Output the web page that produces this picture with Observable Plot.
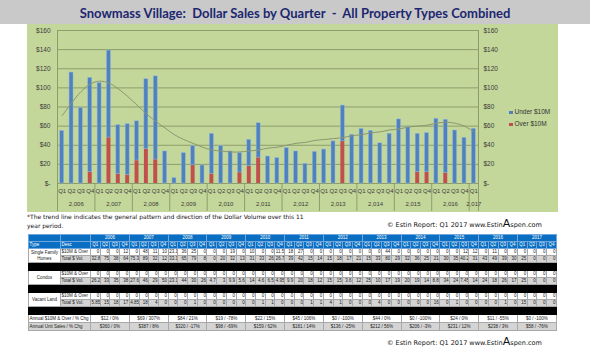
<!DOCTYPE html>
<html><head><meta charset="utf-8">
<script src="https://cdn.jsdelivr.net/npm/d3@7"></script>
<script src="https://cdn.jsdelivr.net/npm/@observablehq/plot@0.6"></script>
<style>
body{margin:0;background:#fff;}
#wrap{position:relative;width:590px;height:349px;overflow:hidden;font-family:"DejaVu Sans",sans-serif;background:#fff;}
#titlebar{position:absolute;left:0;top:0;width:590px;height:24px;background:#c9c9c9;}
#title{position:absolute;left:0;top:0;width:590px;height:24px;line-height:26px;text-align:center;font-family:Lato,sans-serif;font-weight:bold;font-size:13px;color:#1c2770;white-space:pre;}
#panel{position:absolute;left:27px;top:24px;width:531px;height:188px;background:#c4d79b;}
#panel svg{position:absolute;left:0;top:0;}
.leg{position:absolute;left:482px;font:6.5px "Liberation Sans",sans-serif;color:#333;white-space:nowrap;}
.leg i{display:inline-block;width:3.5px;height:3.5px;margin-right:2px;vertical-align:middle;}
#foot{position:absolute;left:27px;top:212px;font-size:6px;line-height:9px;color:#111;white-space:nowrap;}
.copy{position:absolute;left:387px;font-size:6.5px;color:#111;white-space:nowrap;}
.copy b{font-weight:normal;font-size:11px;}
#tbl{position:absolute;left:28px;top:234px;width:529px;border-collapse:collapse;table-layout:fixed;font-family:"Liberation Sans",sans-serif;font-size:4.5px;color:#222;}
#tbl td{padding:0 0.5px;border:1px solid #a8a8a8;text-align:right;overflow:hidden;white-space:nowrap;line-height:6px;}
#tbl tr.h td{background:#0a6fc2;color:#fff;border-color:#6ea6dd;text-align:center;}
#tbl tr.bk td{background:#000;border-color:#000;}
#tbl tr.g td{background:#d4d4d4;}
#tbl td.lbl{text-align:left;background:#fff !important;}
#tbl td.typ{text-align:center;background:#fff !important;line-height:6px;}
#tbl td.c{text-align:center;}
</style></head>
<body><div id="wrap">
<div id="titlebar"></div>
<div id="title">Snowmass Village:  Dollar Sales by Quarter  -  All Property Types Combined</div>
<div id="panel"></div>
<div id="foot">*The trend line indicates the general pattern and direction of the Dollar Volume over this 11<br>year period.</div>
<div class="copy" style="top:217px">© Estin Report: Q1 2017 www.Estin<b>A</b>spen.com</div>
<table id="tbl"></table>
<div class="copy" style="top:335px">© Estin Report: Q1 2017 www.Estin<b>A</b>spen.com</div>
</div>
<script>
// ---- chart data ----
const years = [2006,2007,2008,2009,2010,2011,2012,2013,2014,2015,2016,2017];
const quarters = ["Q1","Q2","Q3","Q4"];
const overSales = [0,0,0,12, 0,48,10,9, 24,36,25,0, 0,0,19,0, 10,0,0,11.5, 18,27,0,0, 0,0,0,0, 0,0,44,0, 0,0,0,0, 0,0,12,12, 0,11,0,0, 0];
const underSales = [55,116,79,98.5, 105,91,51,53, 41,73,87,33.5, 5.6,31.7,20,18.8, 42,39,33.5,20.2, 27.7,36,28.2,26.5, 37,33.5,20.6,33, 35.5,44,37.5,51, 57,55,42,52, 67,59,40,40.6, 67.7,55.6,55.4,47.8, 57.2];
const trendLine = [71,84,96,104, 107,105,99,91, 82,73,65,58, 51,46,42,38, 35,34,33,33, 34,35,37,38, 40,42,43,45, 46,47,48,50, 51,53,54,56, 57,59,60,61, 63,64,63,60, 54];
const yTicks = [0,20,40,60,80,100,120,140,160];
const seriesNames = ["Under $10M","Over $10M"];
const seriesColors = ["#4f81bd","#c0504d"];

// ---- table data ----
const tableTypes = ["Single Family<br>Homes","Condos","Vacant Land"];
const tableDesc = ["$10M & Over","Total $ Vol."];
const sfOver = [0,0,0,12, 0,48,11,10, 23.1,36,25,0, 0,0,19,0, 10,0,0,11.5, 18,27,0,0, 0,0,0,0, 0,0,44,0, 0,0,0,0, 0,0,12,12, 0,11,0,0, 0,0,0,0];
const sfTotal = [32.8,75,38,64, 75.3,89,32,12, 33.1,65,79,8, 0,20,32,13, 31,33,26,26.7, 39,42,15,14, 15,18,17,21, 15,33,80,29, 32,36,25,21, 30,35,40.2,31, 43,49,39,30, 25,0,0,0];
const condoOver = [0,0,0,0, 0,0,0,0, 0,0,0,0, 0,0,0,0, 0,0,0,0, 0,0,0,0, 0,0,0,0, 0,0,0,0, 0,0,0,0, 0,0,0,0, 0,0,0,0, 0,0,0,0];
const condoTotal = [26.2,33,35,38, 27.6,46,29,50, 23.1,44,30,26, 4.7,3,9.9,5.6, 14,4.6,6.5,4.95, 9.9,20,18,12, 15,15,3.6,12, 25,10,17,19, 20,19,14,8.8, 34,24,7.45,14, 24,18,26,17, 25,0,0,0];
const landOver = [0,0,0,0, 0,0,0,0, 0,0,0,0, 0,0,0,0, 0,0,0,0, 0,0,0,0, 0,0,0,0, 0,0,0,0, 0,0,0,0, 0,0,0,0, 0,0,0,0, 0,0,0,0];
const landTotal = [5.85,15,18,17, 4.85,18,4,0, 0,0,1,0, 0,0,0,0, 0,1,1,0, 0,0,1,1, 4,1,0,0, 0,4,0,0, 0,0,0,16, 0,1,0,0, 0,0,1,0, 15,0,0,0];
const annualLabels = ["Annual $10M & Over / % Chg","Annual Unit Sales / % Chg"];
const annualOver = ["$12 / 0%","$69 / 307%","$84 / 21%","$19 / -78%","$22 / 15%","$45 / 106%","$0 / -100%","$44 / 0%","$0 / -100%","$24 / 0%","$11 / -55%","$0 / -100%"];
const annualSales = ["$360 / 0%","$387 / 8%","$320 / -17%","$98 / -69%","$159 / 62%","$181 / 14%","$136 / -25%","$212 / 56%","$206 / -3%","$231 / 12%","$238 / 3%","$58 / -76%"];

// ---- chart ----
const n = underSales.length;
const idx = d3.range(n);
const bars = idx.map(i => ({i, over: overSales[i], under: underSales[i]}));
const trend = idx.map(i => ({x: i + 0.5, y: trendLine[i]}));
const bounds = years.map((y, k) => k * 4).filter(v => v < n).concat([n]);
const yearMid = years.map((y, k) => {
  const s = k * 4, e = Math.min(k * 4 + 4, n);
  return {y, m: (s + e) / 2};
});
const grid = "#8d9d6c";
const fmt = d => d === 0 ? "$-" : "$" + d;

const chart = Plot.plot({
  width: 531, height: 188,
  marginLeft: 30, marginRight: 80, marginTop: 6, marginBottom: 29,
  style: {background: "transparent", fontFamily: "Liberation Sans, sans-serif", fontSize: "6.5px", color: "#3a3a3a", overflow: "visible"},
  x: {domain: [0, n], axis: null},
  y: {domain: [0, 160], axis: null},
  marks: [
    Plot.gridY({ticks: yTicks, stroke: grid, strokeOpacity: 1, strokeWidth: 1}),
    Plot.frame({stroke: grid}),
    Plot.rect(bars, {x1: "i", x2: d => d.i + 1, y1: 0, y2: "over", fill: seriesColors[1], insetLeft: 2.7, insetRight: 2.7}),
    Plot.rect(bars, {x1: "i", x2: d => d.i + 1, y1: "over", y2: d => d.over + d.under, fill: seriesColors[0], stroke: "#8fb4e6", strokeWidth: 0.5, insetLeft: 2.7, insetRight: 2.7}),
    Plot.line(trend, {x: "x", y: "y", stroke: "#8a9870", strokeWidth: 1, curve: "catmull-rom"}),
    Plot.axisY({ticks: yTicks, tickFormat: fmt, tickSize: 0, tickPadding: 7, anchor: "left", label: null}),
    Plot.axisY({ticks: yTicks, tickFormat: fmt, tickSize: 0, tickPadding: 5, anchor: "right", label: null}),
    Plot.axisX({ticks: idx.map(i => i + 0.5), tickFormat: d => quarters[Math.floor(d) % 4], tickSize: 0, tickPadding: 5, label: null, fontSize: 6}),
    Plot.axisX({ticks: bounds, tickFormat: () => "", tickSize: 28, stroke: grid, label: null}),
    Plot.axisX({ticks: yearMid.map(d => d.m), tickFormat: d => yearMid.find(e => e.m === d).y, tickSize: 0, tickPadding: 18, label: null, fontSize: 6})
  ]
});
const panel = document.getElementById("panel");
panel.appendChild(chart);
seriesNames.forEach((s, k) => {
  const el = document.createElement("div");
  el.className = "leg";
  el.style.top = (84 + k * 12) + "px";
  el.innerHTML = `<i style="background:${seriesColors[k]}"></i>${s}`;
  panel.appendChild(el);
});

// ---- table ----
const tbl = document.getElementById("tbl");
let html = '<colgroup><col style="width:32px"><col style="width:30px">' + d3.range(48).map(() => '<col>').join("") + '</colgroup>';
html += '<tr class="h" style="height:6px"><td></td><td></td>' + years.map(y => `<td colspan="4">${y}</td>`).join("") + '</tr>';
html += '<tr class="h" style="height:6px"><td style="text-align:left">Type</td><td style="text-align:left">Desc</td>' + years.map(() => quarters.map(q => `<td>${q}</td>`).join("")).join("") + '</tr>';
const groups = [[sfOver, sfTotal],[condoOver, condoTotal],[landOver, landTotal]];
const cellv = v => v === 0 ? "0" : String(v);
groups.forEach((g, k) => {
  html += `<tr style="height:7px"><td class="typ" rowspan="2">${tableTypes[k]}</td><td class="lbl">${tableDesc[0]}</td>` + g[0].map(v => `<td>${cellv(v)}</td>`).join("") + '</tr>';
  html += `<tr class="g" style="height:7px"><td class="lbl" style="background:#d4d4d4 !important">${tableDesc[1]}</td>` + g[1].map(v => `<td>${cellv(v)}</td>`).join("") + '</tr>';
  html += '<tr class="bk" style="height:8px"><td colspan="50"></td></tr>';
});
html += `<tr style="height:8px"><td class="lbl" colspan="2">${annualLabels[0]}</td>` + annualOver.map(s => `<td class="c" colspan="4">${s}</td>`).join("") + '</tr>';
html += `<tr class="g" style="height:8px"><td class="lbl" colspan="2" style="background:#d4d4d4 !important">${annualLabels[1]}</td>` + annualSales.map(s => `<td class="c" colspan="4">${s}</td>`).join("") + '</tr>';
tbl.innerHTML = html;
</script>
</body></html>
